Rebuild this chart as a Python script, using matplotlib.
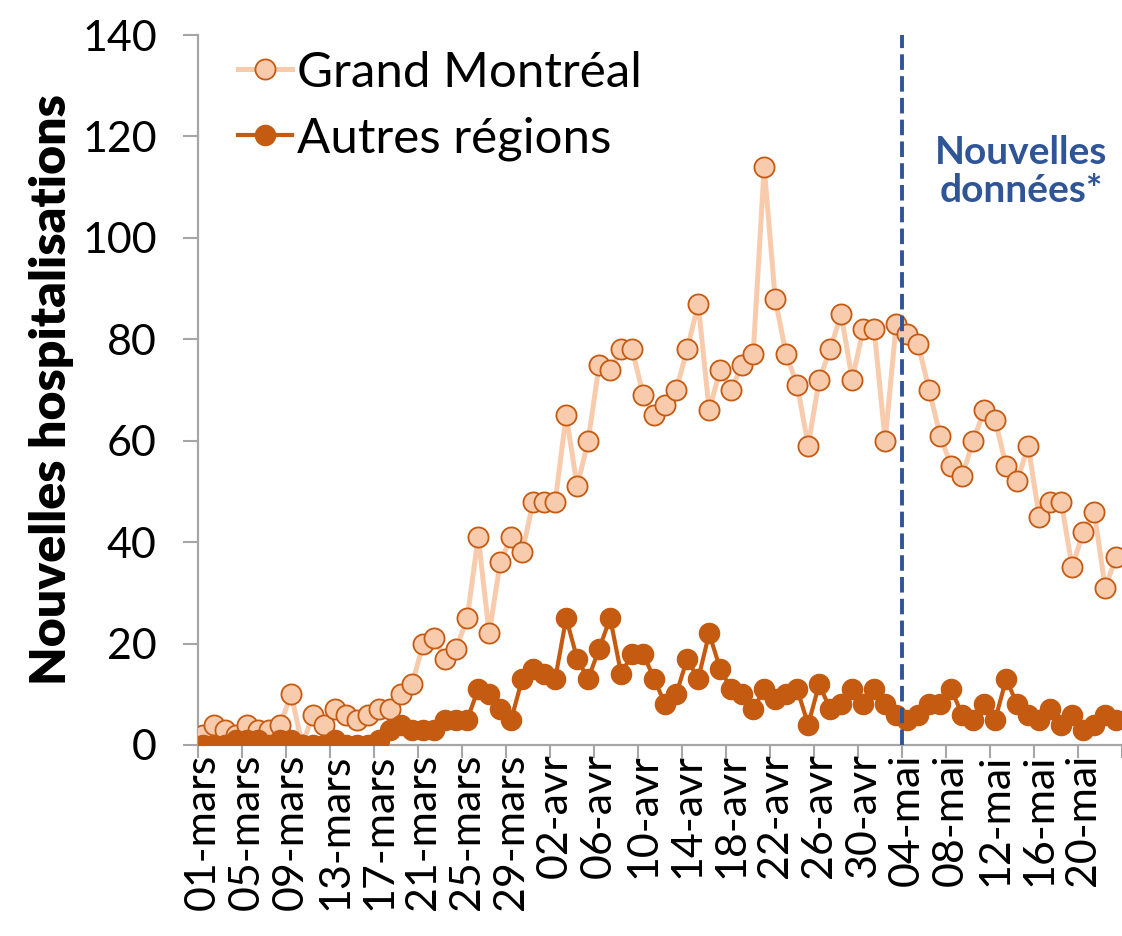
import numpy as np
import matplotlib.pyplot as plt

# Daily new hospitalisations, 01-mars .. 23-mai
grand_montreal = [2, 4, 3, 2, 4, 3, 3, 4, 10, 0,
                  6, 4, 7, 6, 5, 6, 7, 7, 10, 12,
                  20, 21, 17, 19, 25, 41, 22, 36, 41, 38,
                  48, 48, 48, 65, 51, 60, 75, 74, 78, 78,
                  69, 65, 67, 70, 78, 87, 66, 74, 70, 75,
                  77, 114, 88, 77, 71, 59, 72, 78, 85, 72,
                  82, 82, 60, 83, 81, 79, 70, 61, 55, 53,
                  60, 66, 64, 55, 52, 59, 45, 48, 48, 35,
                  42, 46, 31, 37]
autres_regions = [0, 0, 0, 1, 1, 1, 0, 1, 1, 0,
                  0, 0, 1, 0, 0, 0, 1, 3, 4, 3,
                  3, 3, 5, 5, 5, 11, 10, 7, 5, 13,
                  15, 14, 13, 25, 17, 13, 19, 25, 14, 18,
                  18, 13, 8, 10, 17, 13, 22, 15, 11, 10,
                  7, 11, 9, 10, 11, 4, 12, 7, 8, 11,
                  8, 11, 8, 6, 5, 6, 8, 8, 11, 6,
                  5, 8, 5, 13, 8, 6, 5, 7, 4, 6,
                  3, 4, 6, 5]
tick_labels = ["01-mars", "05-mars", "09-mars", "13-mars", "17-mars", "21-mars",
               "25-mars", "29-mars", "02-avr", "06-avr", "10-avr", "14-avr",
               "18-avr", "22-avr", "26-avr", "30-avr", "04-mai", "08-mai",
               "12-mai", "16-mai", "20-mai"]
new_data_start = 63.5  # between 03-mai and 04-mai

plt.rcParams['font.family'] = ['Lato', 'DejaVu Sans']

light = '#F8CBAD'
dark = '#C55A11'
blue = '#2F5597'
grey = '#A6A6A6'

x = np.arange(len(grand_montreal))

fig = plt.figure(figsize=(11.22, 9.36), dpi=100)
ax = fig.add_axes([0.1762, 0.2041, 0.8235, 0.7585])

ax.plot(x, grand_montreal, color=light, lw=3.6, marker='o', ms=14.5,
        mfc=light, mec=dark, mew=1.3, label='Grand Montréal', zorder=3)
ax.plot(x, autres_regions, color=dark, lw=3.0, marker='o', ms=14.5,
        mfc=dark, mec=dark, mew=1.0, label='Autres régions', zorder=4)

ax.axvline(new_data_start, color=blue, lw=2.8, ls=(0, (4, 1.6)), zorder=5)
ax.text(0.910, 0.817, 'Nouvelles\ndonnées*', transform=fig.transFigure,
        ha='center', va='center', color=blue, fontsize=28, fontweight='bold',
        linespacing=1.1)

ax.set_xlim(-0.5, len(x) - 0.5)
ax.set_ylim(0, 140)
ax.set_yticks(np.arange(0, 141, 20))

# tick marks between categories, labels on every 4th category
ax.set_xticks(np.arange(-0.5, len(x), 4))
ax.set_xticklabels([])
ax.set_xticks(np.arange(0, len(x), 4), minor=True)
ax.set_xticklabels(tick_labels, minor=True, rotation=90, fontsize=31,
                   va='top', ha='center')
ax.tick_params(axis='x', which='major', length=9, width=1.5, color=grey)
ax.tick_params(axis='x', which='minor', length=0, pad=6)
ax.tick_params(axis='y', length=10.5, width=1.5, color=grey, labelsize=31, pad=19)

for s in ['top', 'right']:
    ax.spines[s].set_visible(False)
for s in ['left', 'bottom']:
    ax.spines[s].set_color(grey)
    ax.spines[s].set_linewidth(1.6)

ax.set_ylabel('Nouvelles hospitalisations', fontsize=36, fontweight='heavy',
              labelpad=6)

ax.legend(loc='upper left', bbox_to_anchor=(0.212, 0.946),
          bbox_transform=fig.transFigure, frameon=False, fontsize=35.5,
          handlelength=1.1, handletextpad=0.1, labelspacing=0.45,
          borderpad=0, borderaxespad=0)

fig.savefig('out.png', dpi=100)
